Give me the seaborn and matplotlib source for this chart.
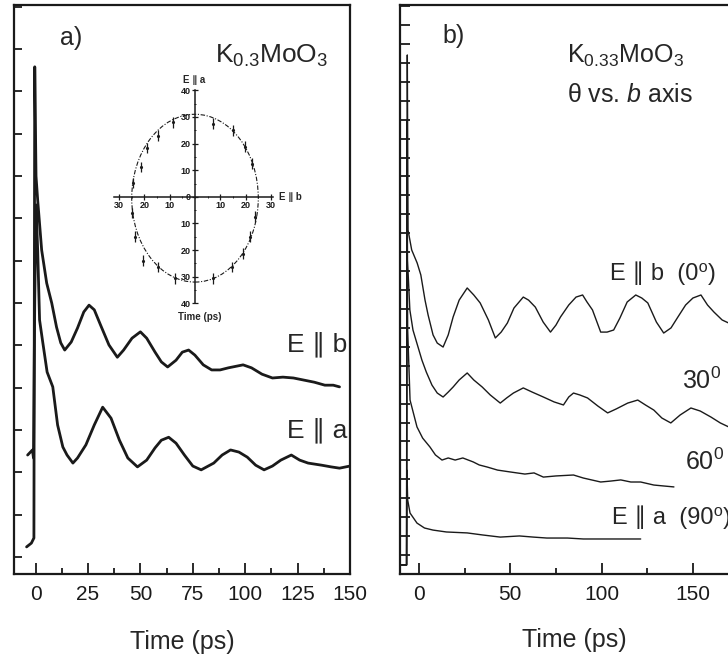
import numpy as np
import pandas as pd
import seaborn as sns
import matplotlib
matplotlib.use("Agg")
import matplotlib.pyplot as plt
from matplotlib.patches import Ellipse
from matplotlib.ticker import FuncFormatter, MultipleLocator

# ---- panel a: K0.3MoO3, two polarisations (arb. units) ----
ta_b = [-4.3, -2.0, -0.8, -0.4, 0.2, 1.0, 2.9, 5.3, 7.7, 10.0, 12.0, 13.9, 17, 20, 23, 25.5, 28, 31,
        35, 39, 42, 46, 50, 53, 57, 60, 63, 67, 70, 73, 76, 80, 84, 88, 92, 96, 99, 103, 108, 113,
        118, 123, 128, 133, 138, 142, 145]
va_b = [1.24, 1.33, 1.45, 12.58, 10.0, 9.43, 8.25, 7.47, 7.00, 6.43, 6.06, 5.89, 6.08, 6.41, 6.79,
        6.95, 6.84, 6.48, 6.01, 5.72, 5.89, 6.17, 6.32, 6.17, 5.84, 5.61, 5.49, 5.65, 5.84, 5.89, 5.77,
        5.54, 5.42, 5.42, 5.47, 5.51, 5.54, 5.47, 5.32, 5.23, 5.25, 5.23, 5.18, 5.13, 5.06, 5.06, 5.02]

ta_a = [-3.8, -1.5, -1.0, -0.4, 0.2, 1.0, 1.9, 3.4, 5.5, 8.2, 10.5, 13.0, 15.0, 17.8, 20, 24, 28, 32,
        36, 40, 44, 48.6, 53, 57, 60, 63.5, 67, 71, 75, 79, 85, 89, 93, 97, 101, 105, 109, 113, 117,
        122, 126, 130, 136.5, 141, 145, 150]
va_a = [3.41, 3.53, 3.34, 7.07, 9.32, 8.25, 6.60, 6.08, 5.37, 5.02, 4.12, 3.60, 3.41, 3.22, 3.34,
        3.65, 4.12, 4.54, 4.28, 3.76, 3.34, 3.13, 3.29, 3.58, 3.76, 3.83, 3.69, 3.41, 3.15, 3.06, 3.22,
        3.41, 3.53, 3.48, 3.36, 3.17, 3.06, 3.15, 3.29, 3.41, 3.29, 3.22, 3.17, 3.13, 3.10, 3.15]

# ---- inset: oscillation period vs polarisation angle (ps) ----
ins_x = [-8.7, -14.6, -19.0, -21.3, -24.5, -24.9, -23.7, -20.5, -14.5, -7.9, 7.2, 14.5, 19.1, 21.7,
         23.7, 22.4, 19.7, 15.1, 7.2]
ins_y = [28.0, 23.0, 18.4, 11.2, 5.2, -6.0, -15.0, -24.0, -26.3, -30.6, -30.6, -26.3, -21.3, -15.0,
         -7.5, 12.5, 18.8, 25.0, 27.5]
ins_err = 2.0
fit_a, fit_b = 31.5, 25.0   # semi-axes of the fitted ellipse

# ---- panel b: K0.33MoO3, angle vs b axis ----
t0 = [-10.4, -6.8, -6.6, -6.4, -6.0, -4, -1, 1, 3.3, 5, 7.7, 10, 13.2, 16, 18.7, 22, 26.4, 30, 33.5,
      38, 41.8, 45, 48.4, 52, 57.1, 60, 63.7, 68, 72, 75, 77.5, 82, 86, 89.6, 92, 95, 99.5, 103,
      106.6, 110, 114, 118.7, 122, 125.3, 130, 134, 138, 141.8, 146, 150, 154.4, 158, 161.5, 166, 172]
v0 = [0.48, 0.48, 14.47, 27.42, 18.17, 17.12, 16.43, 15.80, 14.47, 13.68, 12.63, 12.20, 11.99, 12.63,
      13.58, 14.47, 15.11, 14.74, 14.32, 13.42, 12.47, 12.78, 13.26, 14.05, 14.63, 14.47, 14.10, 13.31,
      12.78, 13.15, 13.58, 14.21, 14.63, 14.74, 14.37, 13.95, 12.78, 12.78, 12.89, 13.52, 14.37, 14.74,
      14.58, 14.32, 13.31, 12.73, 13.00, 13.58, 14.21, 14.58, 14.74, 14.21, 13.84, 13.42, 13.15]

t30 = [-10.4, -6.8, -6.6, -6.3, -5, -3.3, 1.6, 4, 7.1, 10, 13.2, 16, 18.7, 22, 26.4, 30, 34.6, 39,
       44.5, 48, 51.7, 57.1, 62, 68.1, 74, 79.1, 82, 84.6, 88, 92.3, 98, 103.3, 108, 114.3, 119.8, 124,
       128.6, 133, 137.9, 143, 148.9, 154, 159.9, 165, 172]
v30 = [0.48, 0.48, 23.98, 16.59, 13.95, 12.89, 11.30, 10.67, 9.98, 9.56, 9.35, 9.61, 9.88, 10.25,
       10.62, 10.25, 9.88, 9.46, 9.03, 9.30, 9.56, 9.83, 9.61, 9.35, 9.09, 8.93, 9.35, 9.56, 9.46, 9.30,
       8.87, 8.51, 8.72, 9.03, 9.19, 8.93, 8.66, 8.24, 7.98, 8.40, 8.77, 8.61, 8.29, 7.98, 7.66]

t60 = [-10.4, -6.8, -6.6, -6.2, -4.9, -1.1, 2, 6, 9, 12.6, 16, 19.8, 24, 29.7, 33, 37.4, 43, 50, 58,
       63, 68.1, 75, 84.6, 90, 99.5, 105, 110.5, 116, 121.4, 128.6, 134, 139.6]
v60 = [0.48, 0.48, 19.76, 12.89, 9.19, 7.77, 7.18, 6.71, 6.29, 6.02, 6.13, 6.02, 6.13, 5.92, 5.76,
       5.65, 5.49, 5.39, 5.28, 5.34, 5.12, 5.18, 5.23, 5.07, 4.86, 4.91, 4.97, 4.86, 4.86, 4.70, 4.65, 4.60]

t90 = [-10.4, -6.8, -6.6, -6.2, -4.9, -1.1, 3, 7.7, 15, 26.4, 35, 44.5, 55, 62.6, 70, 81.3, 90,
       99.5, 110, 121.4]
v90 = [0.48, 0.48, 5.49, 3.91, 3.22, 2.69, 2.43, 2.32, 2.22, 2.17, 2.06, 1.95, 2.01, 1.95, 1.90,
       1.90, 1.85, 1.85, 1.85, 1.85]

sns.set_theme(style='ticks')
plt.rcParams['font.family'] = ['Liberation Sans', 'DejaVu Sans']
plt.rcParams['mathtext.fontset'] = 'custom'
plt.rcParams['mathtext.rm'] = 'Liberation Sans'
plt.rcParams['mathtext.it'] = 'Liberation Sans:italic'
plt.rcParams['mathtext.default'] = 'regular'

W, H = 728, 656
f = plt.figure(figsize=(W / 100, H / 100), dpi=100)
f.patch.set_facecolor('white')

def px(x, y):
    return x / W, 1 - y / H

axa = f.add_axes([14 / W, 1 - 574 / H, 336 / W, 569 / H])
axb = f.add_axes([400 / W, 1 - 574 / H, 347.7 / W, 569 / H])

for ax in (axa, axb):
    ax.set_facecolor('white')
    for s in ax.spines.values():
        s.set_linewidth(1.6)
        s.set_color('k')
    ax.tick_params(axis='both', which='both', direction='in', colors='k', width=1.3,
                   labelsize=15, labelleft=False)
    ax.tick_params(axis='x', which='major', length=8, pad=8)
    ax.tick_params(axis='x', which='minor', length=4.5)
    ax.tick_params(axis='y', which='major', length=5.5)

# panel a
sns.lineplot(x=ta_b, y=va_b, ax=axa, color='k', lw=2.0, estimator=None, sort=False)
sns.lineplot(x=ta_a, y=va_a, ax=axa, color='k', lw=2.0, estimator=None, sort=False)
axa.set_xlim(-10.3, 150)
axa.set_ylim(0.6, 14.04)
axa.xaxis.set_major_locator(MultipleLocator(25))
axa.xaxis.set_minor_locator(MultipleLocator(12.5))
axa.yaxis.set_major_locator(MultipleLocator(1))
axa.set_ylabel('')
axa.set_xlabel('Time (ps)', fontsize=18, labelpad=19)

# panel b
for tt, vv in [(t0, v0), (t30, v30), (t60, v60), (t90, v90)]:
    sns.lineplot(x=tt, y=vv, ax=axb, color='k', lw=1.0, estimator=None, sort=False)
axb.set_xlim(-10.4, 180)
axb.set_ylim(0, 30.06)
axb.xaxis.set_major_locator(MultipleLocator(50))
axb.xaxis.set_minor_locator(MultipleLocator(25))
axb.yaxis.set_major_locator(MultipleLocator(1))
axb.tick_params(axis='y', which='major', length=7)
axb.set_ylabel('')
axb.set_xlabel('Time (ps)', fontsize=18, labelpad=17)

# labels panel a
f.text(*px(60, 38), 'a)', fontsize=18, va='center', ha='left')
f.text(*px(215, 63), r'K$_{0.3}$MoO$_3$', fontsize=19, va='baseline', ha='left')
f.text(*px(287, 344), 'E \u2225 b', fontsize=19, va='center', ha='left')
f.text(*px(287, 430), 'E \u2225 a', fontsize=19, va='center', ha='left')

# labels panel b
f.text(*px(442, 36), 'b)', fontsize=18, va='center', ha='left')
f.text(*px(567, 63), r'K$_{0.33}$MoO$_3$', fontsize=18, va='baseline', ha='left')
f.text(*px(567, 95), r'$\theta$ vs. $\mathit{b}$ axis', fontsize=18, va='center', ha='left')
f.text(*px(610, 273), 'E \u2225 b  (0\u2070)', fontsize=17, va='center', ha='left')
f.text(*px(682, 381), r'30$^{0}$', fontsize=18, va='center', ha='left')
f.text(*px(685, 462), r'60$^{0}$', fontsize=18, va='center', ha='left')
f.text(*px(612, 517), 'E \u2225 a  (90\u2070)', fontsize=17, va='center', ha='left')

# inset
axi = f.add_axes([114 / W, 1 - 308.7 / H, 162 / W, 223.7 / H])
axi.set_facecolor('none')
axi.set_xlim(-32, 32)
axi.set_ylim(-42, 42)
for side in ('top', 'right'):
    axi.spines[side].set_visible(False)
axi.spines['left'].set_position('zero')
axi.spines['bottom'].set_position('zero')
axi.spines['left'].set_bounds(-40, 40)
axi.spines['bottom'].set_bounds(-32, 31)
for s in ('left', 'bottom'):
    axi.spines[s].set_linewidth(1.1)
    axi.spines[s].set_color('k')
axi.set_xticks([-30, -20, -10, 10, 20, 30])
axi.set_yticks([-40, -30, -20, -10, 0, 10, 20, 30, 40])
axi.xaxis.set_minor_locator(MultipleLocator(5))
axi.yaxis.set_minor_locator(MultipleLocator(5))
absfmt = FuncFormatter(lambda v, p: f'{abs(v):.0f}')
axi.xaxis.set_major_formatter(absfmt)
axi.yaxis.set_major_formatter(absfmt)
axi.tick_params(axis='both', which='major', direction='inout', length=4, width=0.9,
                labelsize=6.5, pad=1, colors='k')
axi.tick_params(axis='both', which='minor', direction='inout', length=2, width=0.7)
for lab in axi.get_xticklabels() + axi.get_yticklabels():
    lab.set_fontweight('bold')
axi.add_patch(Ellipse((0, -0.5), 2 * fit_b, 2 * fit_a, fill=False, color='k', lw=0.8,
                      ls=(0, (4, 1.5, 1, 1.5))))
axi.errorbar(ins_x, ins_y, yerr=ins_err, fmt='.', ms=2.5, color='k', elinewidth=0.9, capsize=0)
f.text(*px(183, 80), 'E \u2225 a', fontsize=7, fontweight='bold', va='center', ha='left')
f.text(*px(279, 197), 'E \u2225 b', fontsize=7, fontweight='bold', va='center', ha='left')
f.text(*px(200, 317), 'Time (ps)', fontsize=7, fontweight='bold', va='center', ha='center')

f.savefig('out.png', dpi=100)
